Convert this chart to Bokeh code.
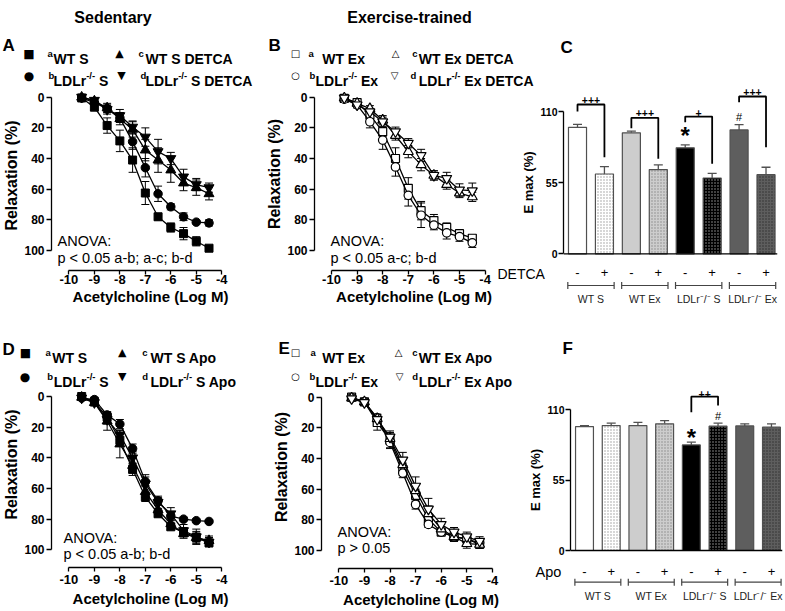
from bokeh.plotting import figure
from bokeh.models import (Range1d, ColumnDataSource, Whisker, TeeHead, Label,
                          FixedTicker, Span, InlineStyleSheet)
from bokeh.embed import file_html
from bokeh.resources import INLINE
from bokeh.core.properties import value

FONT = "Liberation Sans"
SYMF = "DejaVu Sans"

# ---------------- data ----------------
log_ach = [-9.5, -9.0, -8.5, -8.0, -7.5, -7.0, -6.5, -6.0, -5.5, -5.0, -4.5]
x_ticks = [-10, -9, -8, -7, -6, -5, -4]
x_tick_labels = ["-10", "-9", "-8", "-7", "-6", "-5", "-4"]
relax_ticks = [0, 20, 40, 60, 80, 100]
emax_ticks = [0, 55, 110]

# Panel A (sedentary, DETCA)
A_wt_s = [0.5, 6.5, 18.5, 28.5, 41.0, 62.5, 78.0, 85.0, 89.0, 94.0, 98.5]
A_wt_s_err = [1.0, 2.0, 5.0, 7.0, 8.0, 7.5, 2.0, 3.0, 4.0, 3.0, 1.5]
A_ko_s = [0.5, 3.5, 7.5, 13.5, 29.0, 46.0, 63.0, 71.5, 78.0, 81.5, 82.0]
A_ko_s_err = [1.0, 1.5, 2.0, 3.0, 5.0, 6.0, 5.0, 2.0, 2.5, 1.0, 2.0]
A_wt_det = [0.0, 2.5, 7.0, 14.0, 21.0, 34.5, 41.0, 47.5, 56.0, 59.0, 63.0]
A_wt_det_err = [1.0, 1.5, 3.0, 4.0, 5.0, 7.0, 8.0, 8.0, 5.0, 5.0, 4.0]
A_ko_det = [0.0, 2.0, 8.0, 12.0, 19.5, 26.0, 35.5, 40.0, 52.0, 57.0, 59.0]
A_ko_det_err = [1.0, 1.5, 3.0, 4.0, 4.0, 6.0, 8.0, 4.0, 5.0, 4.0, 3.0]

# Panel B (exercise, DETCA)
B_wt_ex = [0.8, 3.5, 11.5, 22.5, 40.0, 59.5, 74.0, 80.5, 85.0, 89.0, 92.0]
B_wt_ex_err = [1.0, 2.0, 2.0, 3.0, 7.0, 7.0, 6.0, 4.0, 3.0, 2.0, 2.0]
B_ko_ex = [1.3, 5.0, 16.0, 28.0, 45.5, 64.0, 77.0, 83.5, 88.5, 91.0, 95.0]
B_ko_ex_err = [1.0, 2.0, 4.0, 6.0, 6.0, 7.0, 8.0, 3.0, 4.0, 3.0, 3.0]
B_wt_det = [0.5, 4.0, 7.5, 15.0, 25.0, 35.5, 44.0, 51.0, 57.0, 62.5, 65.0]
B_wt_det_err = [1.0, 1.0, 2.0, 3.0, 3.0, 4.0, 4.0, 3.0, 3.0, 3.0, 3.0]
B_ko_det = [0.5, 5.0, 9.5, 16.0, 22.5, 30.0, 38.0, 51.0, 53.0, 60.5, 61.0]
B_ko_det_err = [1.0, 1.0, 2.0, 3.0, 3.0, 3.0, 4.0, 3.0, 4.0, 4.0, 5.0]

# Panel D (sedentary, Apo)
D_wt_s = [0.0, 3.5, 13.5, 28.5, 47.5, 65.5, 76.5, 85.0, 88.5, 92.0, 95.5]
D_wt_s_err = [1.0, 1.5, 3.0, 4.0, 4.0, 3.0, 2.0, 2.0, 3.0, 3.0, 2.0]
D_ko_s = [1.0, 2.0, 12.0, 18.0, 34.0, 55.5, 68.0, 78.0, 80.0, 81.0, 81.5]
D_ko_s_err = [1.0, 1.5, 2.0, 3.0, 3.0, 3.0, 2.0, 1.0, 1.0, 1.0, 1.0]
D_wt_apo = [0.5, 4.0, 16.0, 31.0, 45.0, 62.0, 74.0, 83.0, 89.5, 92.0, 94.0]
D_wt_apo_err = [1.0, 2.0, 6.0, 9.0, 5.0, 4.0, 3.0, 2.0, 3.0, 4.0, 3.0]
D_ko_apo = [1.0, 4.0, 15.0, 25.0, 40.0, 57.0, 69.0, 76.5, 87.5, 91.5, 95.0]
D_ko_apo_err = [1.0, 2.0, 3.0, 3.0, 4.0, 6.0, 4.0, 4.0, 4.0, 5.0, 3.0]

# Panel E (exercise, Apo)
E_wt_ex = [0.0, 3.0, 16.5, 28.0, 47.0, 64.0, 79.5, 88.0, 91.0, 92.5, 96.0]
E_wt_ex_err = [1.0, 1.5, 5.0, 5.0, 4.0, 4.0, 3.0, 2.0, 3.0, 2.0, 2.0]
E_ko_ex = [0.5, 3.0, 13.5, 29.5, 49.5, 70.0, 83.0, 88.0, 91.0, 92.5, 95.0]
E_ko_ex_err = [1.0, 1.5, 2.0, 4.0, 3.0, 3.0, 2.0, 2.0, 2.0, 2.0, 2.0]
E_wt_apo = [0.5, 3.0, 14.0, 27.0, 44.0, 61.0, 76.0, 86.0, 91.0, 95.5, 96.0]
E_wt_apo_err = [1.0, 1.5, 3.0, 3.0, 4.0, 4.0, 5.0, 3.0, 3.0, 3.0, 2.0]
E_ko_apo = [1.0, 3.5, 14.5, 26.0, 41.0, 58.0, 73.0, 83.0, 88.0, 91.0, 94.0]
E_ko_apo_err = [1.0, 1.5, 3.0, 4.0, 5.0, 6.0, 7.0, 4.0, 3.0, 3.0, 3.0]

# Bar panels C and F
bar_pos = [0, 1, 2, 3, 4, 5, 6, 7]
treat_marks = ["-", "+", "-", "+", "-", "+", "-", "+"]
group_pos = [0.5, 2.5, 4.5, 6.5]
group_labels = ["WT S", "WT Ex", "LDLr\u207b/\u207b S", "LDLr\u207b/\u207b Ex"]
C_emax = [97.8, 61.7, 93.5, 65.1, 81.9, 58.6, 95.8, 61.2]
C_sem = [2.2, 5.7, 1.3, 3.6, 2.3, 3.6, 4.1, 5.7]
F_emax = [96.7, 97.5, 97.5, 98.8, 82.4, 97.0, 97.2, 96.2]
F_sem = [0.8, 1.8, 2.5, 2.6, 2.1, 2.3, 1.6, 2.6]

C_sig_left = [0, 2, 4, 6]
C_sig_right = [1, 3, 5, 7]
C_sig_top = [115.4, 105.1, 106.1, 121.6]
C_sig_left_end = [110.0, 97.0, 101.7, 117.2]
C_sig_right_end = [74.7, 73.4, 69.6, 82.4]
C_sig_text = ["+++", "+++", "+", "+++"]
C_sig_text_y = [118.9, 108.8, 108.8, 125.1]
C_star = ([4], [91.4])
C_hash = ([6], [105.4])

F_sig_left = [4]
F_sig_right = [5]
F_sig_top = [120.1]
F_sig_left_end = [107.9]
F_sig_right_end = [113.1]
F_sig_text = ["++"]
F_sig_text_y = [122.1]
F_star = ([4], [88.2])
F_hash = ([5], [105.3])

# ---------------- styles ----------------
bar_fill = ["white", "white", "#cdcdcd", "#cdcdcd", "black", "black", "#5e5e5e", "#5e5e5e"]
bar_hatch = [" ", ".", " ", ".", " ", ".", " ", "."]
bar_hatch_color = ["#9a9a9a", "#9a9a9a", "#8a8a8a", "#8a8a8a", "#a0a0a0", "#a0a0a0",
                   "#2e2e2e", "#2e2e2e"]

BW = {' ': 278, '-': 333, '/': 278, 'A': 722, 'B': 722, 'C': 722, 'D': 722, 'E': 667,
      'L': 611, 'M': 833, 'S': 667, 'T': 611, 'W': 944, 'a': 556, 'b': 611, 'c': 556,
      'd': 611, 'o': 611, 'p': 611, 'r': 389, 'x': 556}


def tw(s, fs):
    return sum(BW.get(c, 556) for c in s) * fs / 1000.0


def fig_at(left, top, width, height, fl, fr, ft, fb, x0, sx, y0, sy, axes=True):
    """figure placed at page pixel (left, top); frame spans page pixels fl..fr, ft..fb"""
    kw = {}
    if not axes:
        kw = dict(x_axis_location=None, y_axis_location=None)
    x_end = x0 + (fr - fl) / sx
    y_bot = y0 + (fb - ft) / sy
    p = figure(width=width, height=height, x_range=Range1d(x0, x_end),
               y_range=Range1d(y_bot, y0), output_backend="svg", toolbar_location=None,
               title=None, min_border_left=fl - left, min_border_right=left + width - fr,
               min_border_top=ft - top, min_border_bottom=top + height - fb, **kw)
    p.outline_line_color = None
    p.xgrid.visible = False
    p.ygrid.visible = False
    p.background_fill_color = None
    p.border_fill_color = None
    css = (":host { position: absolute !important; left: %dpx !important; "
           "top: %dpx !important; margin: 0 !important; }" % (left, top))
    p.stylesheets = [InlineStyleSheet(css=css)]
    p.styles = {"position": "absolute", "left": "%dpx" % left, "top": "%dpx" % top}
    return p


def lab(p, x, y, text, size, bold=False, font=FONT, align="left", baseline="alphabetic",
        color="black"):
    p.add_layout(Label(x=x, y=y, x_units="data", y_units="data", text=text,
                       text_font=font, text_font_size=f"{size}px",
                       text_font_style="bold" if bold else "normal",
                       text_align=align, text_baseline=baseline, text_color=color))


def rich(p, rx, rbase, parts, fs=14.0, sfs=9.5, rise=5.5):
    x = rx
    for txt, kind in parts:
        size = fs if kind == "m" else sfs
        yb = rbase if kind == "m" else rbase - rise
        lead = len(txt) - len(txt.lstrip(" "))
        x += lead * 278 * size / 1000.0
        t = txt.strip(" ")
        lab(p, x, yb, t, size, bold=True)
        x += tw(t, size)


def legend(p, bases, items):
    for sym, mx, r, msize, sup, sx, parts, tx in items:
        base = bases[r - 1]
        lab(p, mx, base - 5.0, sym, msize, font=SYMF, align="center", baseline="middle")
        lab(p, sx, base - 5.5, sup, 9.5, bold=True)
        rich(p, tx, base, parts)


def style_common(ax):
    ax.axis_line_color = "black"
    ax.axis_line_width = 1.3
    ax.major_tick_line_color = "black"
    ax.major_tick_line_width = 1.3
    ax.major_tick_in = 0
    ax.minor_tick_line_color = None
    ax.major_label_text_font = FONT
    ax.major_label_text_font_style = "bold"
    ax.major_label_text_color = "black"
    ax.axis_label_text_font = FONT
    ax.axis_label_text_font_style = "bold"
    ax.axis_label_text_color = "black"


def line_panel(p, series, tick_standoff, label_standoff):
    xa = p.xaxis[0]
    style_common(xa)
    xa.ticker = FixedTicker(ticks=x_ticks)
    xa.major_label_overrides = {t: s for t, s in zip(x_ticks, x_tick_labels)}
    xa.bounds = (x_ticks[0], x_ticks[-1])
    xa.major_tick_out = 4
    xa.major_label_standoff = tick_standoff
    xa.major_label_text_font_size = "13px"
    xa.axis_label = "Acetylcholine (Log M)"
    xa.axis_label_text_font_size = "15px"
    xa.axis_label_standoff = label_standoff
    ya = p.yaxis[0]
    style_common(ya)
    ya.ticker = FixedTicker(ticks=relax_ticks)
    ya.bounds = (relax_ticks[0], relax_ticks[-1])
    ya.major_tick_out = 5
    ya.major_label_standoff = 2
    ya.major_label_text_font_size = "12px"
    ya.axis_label = "Relaxation (%)"
    ya.axis_label_text_font_size = "16px"
    ya.axis_label_standoff = 1
    for y, err, marker, size, fill in series:
        src = ColumnDataSource(dict(x=log_ach, y=y,
                                    lo=[v - e for v, e in zip(y, err)],
                                    hi=[v + e for v, e in zip(y, err)]))
        p.line("x", "y", source=src, line_color="black", line_width=1.3)
        p.add_layout(Whisker(source=src, base="x", lower="lo", upper="hi", dimension="height",
                             line_color="black", line_width=1, level="underlay",
                             upper_head=TeeHead(size=8, line_color="black", line_width=1),
                             lower_head=TeeHead(size=8, line_color="black", line_width=1)))
        p.scatter("x", "y", source=src, marker=marker, size=size, fill_color=fill,
                  line_color="black", line_width=1.2 if fill == "white" else 1)


def bar_panel(p, emax, sem, treat_y, brk_y, sl, sr, stop, sle, sre, stext, sty, star, hsh):
    ya = p.yaxis[0]
    style_common(ya)
    ya.ticker = FixedTicker(ticks=emax_ticks)
    ya.bounds = (emax_ticks[0], emax_ticks[-1])
    ya.major_tick_out = 5
    ya.major_label_standoff = 1
    ya.major_label_text_font_size = "10.5px"
    ya.axis_label = "E max (%)"
    ya.axis_label_text_font_size = "13px"
    ya.axis_label_standoff = 2
    xa = p.xaxis[0]
    style_common(xa)
    xa.ticker = FixedTicker(ticks=group_pos)
    xa.major_label_overrides = {t: s for t, s in zip(group_pos, group_labels)}
    xa.axis_line_color = None
    xa.major_tick_line_color = None
    xa.major_tick_out = 0
    xa.major_label_standoff = 1
    xa.major_label_text_font_style = "normal"
    xa.major_label_text_font_size = "10.5px"
    xa.major_label_text_color = "#222222"

    src = ColumnDataSource(dict(x=bar_pos, top=emax, hi=[m + s for m, s in zip(emax, sem)],
                                fill=bar_fill, hatch=bar_hatch, hcol=bar_hatch_color))
    p.vbar(x="x", top="top", bottom=0, width=0.67, source=src, fill_color="fill",
           line_color="#505050", line_width=1.2, hatch_pattern="hatch",
           hatch_color="hcol", hatch_scale=3, hatch_weight=1)
    p.add_layout(Whisker(source=src, base="x", lower="top", upper="hi", dimension="height",
                         line_color="#505050", line_width=1.3, lower_head=None,
                         upper_head=TeeHead(size=9, line_color="#505050", line_width=1.3)))
    p.add_layout(Span(location=0, dimension="width", line_color="black", line_width=1.3))
    p.text(x=bar_pos, y=[treat_y] * len(bar_pos), text=treat_marks,
           text_font=value(FONT), text_font_size="13px", text_align="center",
           text_baseline="alphabetic", text_color="black")
    gsrc = ColumnDataSource(dict(base=[brk_y] * len(group_pos),
                                 lo=[gp - 0.5 - 0.36 for gp in group_pos],
                                 hi=[gp + 0.5 + 0.36 for gp in group_pos]))
    p.add_layout(Whisker(source=gsrc, base="base", lower="lo", upper="hi", dimension="width",
                         line_color="#444444", line_width=1.2,
                         lower_head=TeeHead(size=7, line_color="#444444", line_width=1.2),
                         upper_head=TeeHead(size=7, line_color="#444444", line_width=1.2)))
    p.multi_line(xs=[[l, l, r, r] for l, r in zip(sl, sr)],
                 ys=[[le, t, t, re] for le, t, re in zip(sle, stop, sre)],
                 line_color="black", line_width=1.8)
    p.text(x=[(l + r) / 2 for l, r in zip(sl, sr)], y=sty, text=stext,
           text_font=value(FONT), text_font_size="10.5px", text_font_style="bold",
           text_align="center", text_baseline="alphabetic", text_color="black")
    p.text(x=star[0], y=star[1], text=["*"] * len(star[0]), text_font=value(FONT),
           text_font_size="24px", text_font_style="bold", text_align="center",
           text_baseline="alphabetic", text_color="black")
    p.text(x=hsh[0], y=hsh[1], text=["#"] * len(hsh[0]), text_font=value(FONT),
           text_font_size="11px", text_align="center", text_baseline="alphabetic",
           text_color="black")


# ---------------- panels (page pixel geometry) ----------------
pA = fig_at(0, 80, 250, 250, 50, 249, 80, 270, -10.684, 25.6, -10.894, 1.533)
line_panel(pA, [(A_wt_s, A_wt_s_err, "square", 8, "black"),
                (A_ko_s, A_ko_s_err, "circle", 8.5, "black"),
                (A_wt_det, A_wt_det_err, "triangle", 10, "black"),
                (A_ko_det, A_ko_det_err, "inverted_triangle", 10, "black")], 0, 1)

pB = fig_at(254, 77, 261, 253, 314, 513, 77, 270, -10.664, 25.6, -12.851, 1.533)
line_panel(pB, [(B_wt_ex, B_wt_ex_err, "square", 8, "white"),
                (B_ko_ex, B_ko_ex_err, "circle", 8.5, "white"),
                (B_wt_det, B_wt_det_err, "triangle", 10, "white"),
                (B_ko_det, B_ko_det_err, "inverted_triangle", 10, "white")], 0, 1)

pC = fig_at(503, 73, 281, 248, 563, 777, 73, 291, -0.520, 26.93, 139.38, -1.2936)
bar_panel(pC, C_emax, C_sem, -14.84, -24.5, C_sig_left, C_sig_right, C_sig_top,
          C_sig_left_end, C_sig_right_end, C_sig_text, C_sig_text_y, C_star, C_hash)

pD = fig_at(0, 361, 250, 250, 50, 249, 361, 567, -10.684, 25.6, -22.831, 1.533)
line_panel(pD, [(D_wt_s, D_wt_s_err, "square", 8, "black"),
                (D_ko_s, D_ko_s_err, "circle", 8.5, "black"),
                (D_wt_apo, D_wt_apo_err, "triangle", 10, "black"),
                (D_ko_apo, D_ko_apo_err, "inverted_triangle", 10, "black")], 3, 3)

pE = fig_at(261, 365, 260, 246, 321, 520, 365, 568, -10.676, 25.6, -20.678, 1.533)
line_panel(pE, [(E_wt_ex, E_wt_ex_err, "square", 8, "white"),
                (E_ko_ex, E_ko_ex_err, "circle", 8.5, "white"),
                (E_wt_apo, E_wt_apo_err, "triangle", 10, "white"),
                (E_ko_apo, E_ko_apo_err, "inverted_triangle", 10, "white")], 3, 3)

pF = fig_at(510, 371, 274, 240, 570, 782, 371, 588, -0.524, 26.71, 139.65, -1.2818)
bar_panel(pF, F_emax, F_sem, -16.54, -24.73, F_sig_left, F_sig_right, F_sig_top,
          F_sig_left_end, F_sig_right_end, F_sig_text, F_sig_text_y, F_star, F_hash)

# ---------------- overlay with titles, letters, legends and notes ----------------
ov = fig_at(0, 0, 785, 611, 0, 785, 0, 611, 0, 1, 0, 1, axes=False)
lab(ov, 112.5, 17, "Sedentary", 16, bold=True, align="center")
lab(ov, 409, 17, "Exercise-trained", 16, bold=True, align="center")
for letter, lx, ly in [("A", 2, 45), ("B", 268, 45), ("C", 560, 47),
                       ("D", 2, 349), ("E", 278, 348), ("F", 562, 348)]:
    lab(ov, lx, ly, letter, 17, bold=True)

legend(ov, (58.3, 80.0), [
    ("\u25a0", 28.5, 1, 12, "a", 47, [("WT S", "m")], 53),
    ("\u25cf", 28.5, 2, 12, "b", 48, [("LDLr", "m"), ("-/-", "s"), (" S", "m")], 53),
    ("\u25b2", 119, 1, 11, "c", 138, [("WT S DETCA", "m")], 145),
    ("\u25bc", 121, 2, 11, "d", 140, [("LDLr", "m"), ("-/-", "s"), (" S DETCA", "m")], 145)])
legend(ov, (58.3, 80.0), [
    ("\u25a1", 295, 1, 10, "a", 308, [("WT Ex", "m")], 321.7),
    ("\u25cb", 295, 2, 10, "b", 309, [("LDLr", "m"), ("-/-", "s"), (" Ex", "m")], 315),
    ("\u25b3", 395, 1, 10, "c", 411.7, [("WT Ex DETCA", "m")], 418.3),
    ("\u25bd", 394, 2, 10, "d", 410, [("LDLr", "m"), ("-/-", "s"), (" Ex DETCA", "m")], 418.3)])
legend(ov, (357, 381), [
    ("\u25a0", 25, 1, 12, "a", 45, [("WT S", "m")], 51.7),
    ("\u25cf", 24.5, 2, 12, "b", 46.7, [("LDLr", "m"), ("-/-", "s"), (" S", "m")], 53.3),
    ("\u25b2", 121.7, 1, 11, "c", 141.7, [("WT S Apo", "m")], 150),
    ("\u25bc", 121.7, 2, 11, "d", 141.7, [("LDLr", "m"), ("-/-", "s"), (" S Apo", "m")], 150)])
legend(ov, (357, 381), [
    ("\u25a1", 295, 1, 10, "a", 310, [("WT Ex", "m")], 321.7),
    ("\u25cb", 295, 2, 10, "b", 309, [("LDLr", "m"), ("-/-", "s"), (" Ex", "m")], 315),
    ("\u25b3", 398, 1, 10, "c", 411.7, [("WT Ex Apo", "m")], 418.3),
    ("\u25bd", 399, 2, 10, "d", 411.7, [("LDLr", "m"), ("-/-", "s"), (" Ex Apo", "m")], 418.3)])

for nx, y1, y2, txt in [(57, 240.8, 257.3, "p < 0.05 a-b; a-c; b-d"),
                        (330, 240.8, 257.3, "p < 0.05 a-c; b-d"),
                        (63, 537, 553, "p < 0.05 a-b; b-d"),
                        (337, 531.5, 547, "p > 0.05")]:
    lab(ov, nx, y1, "ANOVA:", 14.5)
    lab(ov, nx, y2, txt, 14.5)
lab(ov, 497, 273, "DETCA", 14)
lab(ov, 535, 571.5, "Apo", 14.5)

roots = [pA, pB, pC, pD, pE, pF, ov]
open("out.html", "w").write(file_html(roots, INLINE))
